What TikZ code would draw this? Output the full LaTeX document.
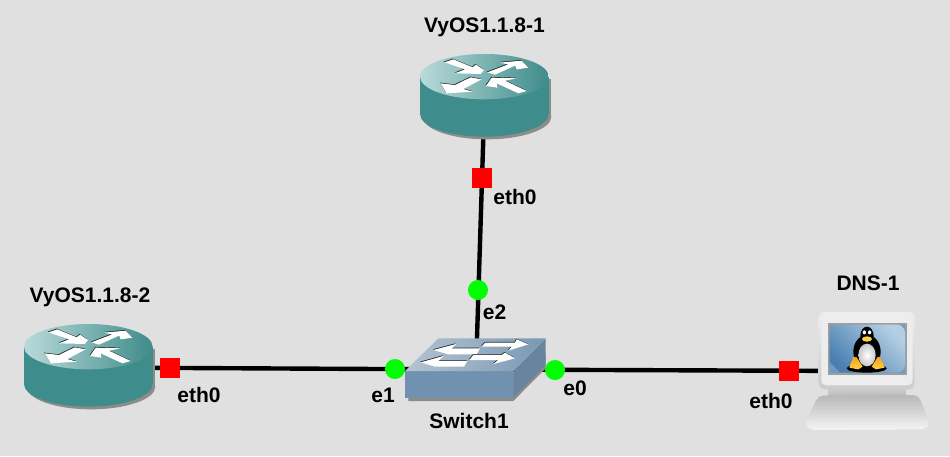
\documentclass[tikz,border=0pt]{standalone}
\usepackage{fontspec}
\setmainfont{Liberation Sans}
\definecolor{bgc}{HTML}{E0E0E0}
\definecolor{teal1}{HTML}{3E8C8B}
\definecolor{teal2}{HTML}{B9DADA}
\definecolor{shadowc}{HTML}{8C8C8C}
\definecolor{swfront}{HTML}{7191B0}
\definecolor{swside}{HTML}{68849E}
\definecolor{swtopl}{HTML}{B4C4D2}
\definecolor{swtopr}{HTML}{7A98B4}
\definecolor{scrdark}{HTML}{4A7FB0}
\definecolor{scrmid}{HTML}{6C9BC6}
\definecolor{scrlight}{HTML}{B4CFE4}
\definecolor{tuxy}{HTML}{FFD23F}
\definecolor{tuxo}{HTML}{F7A01E}
\tikzset{
  link/.style={line width=4.4pt,black},
  port/.style={draw=none,fill=red,minimum size=20pt,inner sep=0pt,outer sep=0pt,rectangle},
  dot/.style={draw=none,fill=green,minimum size=20pt,inner sep=0pt,outer sep=0pt,circle},
  lab/.style={font=\fontsize{21}{25}\selectfont\bfseries,inner sep=0pt,text=black,anchor=base},
  zoomed/.style={x=0.3333pt,y=-0.3333pt},
  arrowshape/.style={fill=white,draw=none},
  arrowshade/.style={fill=black!85,draw=none},
}
\newcommand{\arrowpoly}[1]{%
  \fill[arrowshade,shift={(-0.5pt,0.7pt)}] #1 -- cycle;
  \fill[arrowshape] #1 -- cycle;}
\newcommand{\routerart}{%
  \fill[shadowc] (261,230) ellipse [x radius=193,y radius=68];
  \fill[shadowc] (68,118) rectangle (454,230);
  \fill[teal1] (253,222) ellipse [x radius=193,y radius=68];
  \fill[teal1] (60,110) rectangle (446,222);
  \shade[left color=teal2,middle color=teal1,right color=teal1] (253,110) ellipse [x radius=193,y radius=68];
  \arrowpoly{(133,67) -- (160,58) -- (218,82) -- (228,74) -- (252,90) -- (242,102) -- (165,100) -- (195,88)}
  \arrowpoly{(262,97) -- (325,73) -- (298,68) -- (365,62) -- (385,83) -- (350,88) -- (345,77) -- (285,104)}
  \arrowpoly{(122,130) -- (165,135) -- (212,112) -- (245,118) -- (190,147) -- (218,155) -- (140,160)}
  \arrowpoly{(258,138) -- (275,113) -- (350,115) -- (315,122) -- (380,153) -- (355,160) -- (290,130) -- (292,143)}
}
\begin{document}
\begin{tikzpicture}[x=1pt,y=-1pt]
\useasboundingbox (0,0) rectangle (950,456);
\fill[bgc] (0,0) rectangle (950,456);
% device anchors
\coordinate (vyos1) at (484.5,100);
\coordinate (vyos2) at (88.5,367.5);
\coordinate (switch) at (476,369.5);
\coordinate (dns) at (860,371);
% connectors
\draw[link] (vyos1) -- (switch);
\draw[link] (vyos2) -- (switch);
\draw[link] (switch) -- (dns);
% VyOS1.1.8-1
\begin{scope}[shift={(400,40)},zoomed]
\routerart
\end{scope}
% VyOS1.1.8-2
\begin{scope}[shift={(4,310)},zoomed]
\routerart
\end{scope}
% Switch
\begin{scope}[shift={(380,320)},zoomed]
\fill[shadowc] (85,160) -- (410,160) -- (497,100) -- (497,145) -- (400,243) -- (85,243) -- cycle;
\fill[swfront] (75,153) rectangle (400,233);
\fill[swside] (400,153) -- (497,55) -- (497,135) -- (400,233) -- cycle;
\shade[left color=swtopl,right color=swtopr] (75,153) -- (175,55) -- (497,55) -- (400,153) -- cycle;
\arrowpoly{(160,90) -- (228,72) -- (215,85) -- (300,85) -- (290,103) -- (205,103)}
\arrowpoly{(315,68) -- (405,68) -- (410,58) -- (445,73) -- (385,92) -- (395,80) -- (305,80)}
\arrowpoly{(122,127) -- (190,108) -- (175,123) -- (262,123) -- (252,140) -- (165,140)}
\arrowpoly{(280,105) -- (365,105) -- (375,98) -- (405,115) -- (340,132) -- (355,120) -- (268,120)}
\end{scope}
% DNS computer
\begin{scope}[shift={(790,300)},zoomed]
\shade[top color=white!82!black,bottom color=white!72!black] (115,262) rectangle (348,292);
\shade[top color=white!72!black,bottom color=white!96!black,rounded corners=5pt] (85,287) -- (385,285) -- (420,372) -- (405,388) -- (60,390) -- (44,374) -- cycle;
\shade[top color=white!93!black,bottom color=white!80!black,rounded corners=6pt] (86,36) rectangle (374,268);
\fill[white!93!black,rounded corners=5pt] (94,42) rectangle (368,256);
\fill[white!62!black] (113,68) rectangle (350,225);
\fill[scrmid] (119,74) rectangle (345,218);
\shade[bottom color=scrdark,middle color=scrdark,top color=scrlight,shading angle=-45,rounded corners=8pt] (119,74) -- (345,74) -- (345,218) -- (119,218) -- cycle;
\fill[scrmid] (119,186) -- (150,218) -- (119,218) -- cycle;
\fill[black] (230,205) ellipse [x radius=60,y radius=13];
\fill[black] (231,108) ellipse [x radius=20,y radius=28];
\fill[black] (231,155) ellipse [x radius=41,y radius=50];
\shade[inner color=white,outer color=white!78!black] (231,165) ellipse [x radius=26,y radius=34];
\fill[white] (223,97) ellipse [x radius=5,y radius=6];
\fill[white] (239,97) ellipse [x radius=5,y radius=6];
\fill[tuxy] (231,117) ellipse [x radius=15,y radius=8];
\shade[top color=tuxo,bottom color=tuxy] (178,203) -- (190,170) -- (200,172) -- (218,200) -- (205,208) -- cycle;
\shade[top color=tuxo,bottom color=tuxy] (284,203) -- (270,170) -- (262,172) -- (245,200) -- (258,208) -- cycle;
\end{scope}
% ports
\node[port] (p1) at (482,178) {};
\node[port] (p2) at (170,368) {};
\node[port] (p3) at (789,371) {};
\node[dot] (d2) at (478,290) {};
\node[dot] (d1) at (395,369) {};
\node[dot] (d0) at (555,370) {};
% labels
\node[lab] (t1) at (484.5,32) {VyOS1.1.8-1};
\node[lab] (t2) at (90,302) {VyOS1.1.8-2};
\node[lab] (t3) at (469,428) {Switch1};
\node[lab] (t4) at (868,290) {DNS-1};
\node[lab] (l1) at (515,204) {eth0};
\node[lab] (l2) at (199,402) {eth0};
\node[lab] (l3) at (771,408) {eth0};
\node[lab] (l4) at (494.5,319) {e2};
\node[lab] (l5) at (383,402) {e1};
\node[lab] (l6) at (575,395) {e0};
\end{tikzpicture}
\end{document}
